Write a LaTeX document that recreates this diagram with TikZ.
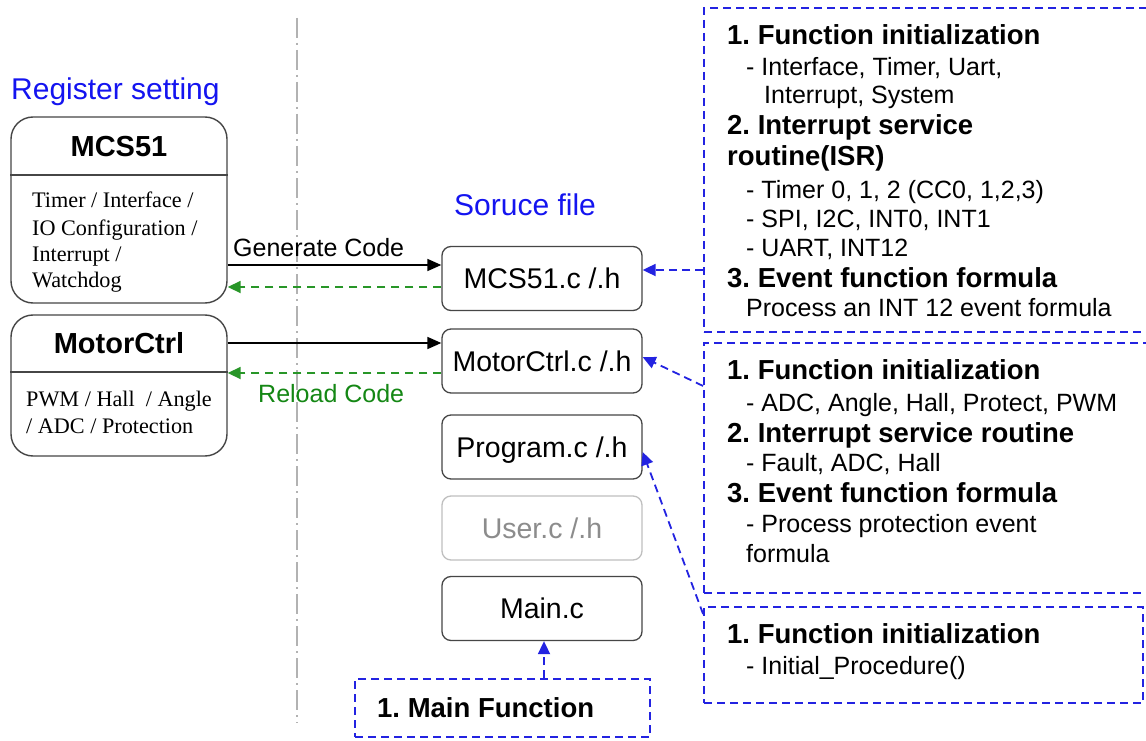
\documentclass[tikz,border=0pt]{standalone}
\usepackage{fontspec}
\setmainfont{Liberation Sans}
\newfontfamily\serifx{Liberation Serif}
\usetikzlibrary{arrows.meta}
\definecolor{dblue}{RGB}{35,35,225}
\definecolor{tblue}{RGB}{20,20,240}
\definecolor{dgreen}{RGB}{40,150,40}
\definecolor{tgreen}{RGB}{20,135,20}
\definecolor{boxgray}{RGB}{70,70,70}
\frenchspacing
\begin{document}
\begin{tikzpicture}[x=1pt,y=-1pt,
  regbox/.style={draw=boxgray, line width=1.4pt, rounded corners=22pt, inner sep=0pt},
  srcbox/.style={draw=boxgray, line width=1.3pt, rounded corners=9pt, minimum width=200pt, minimum height=64pt, inner sep=0pt, font=\fontsize{28.5}{33}\selectfont, text height=20.5pt, text depth=0pt},
  dbox/.style={draw=dblue, line width=1.8pt, dash pattern=on 8pt off 5pt, inner sep=0pt},
  ttl/.style={font=\bfseries\fontsize{29}{34}\selectfont, inner sep=0pt},
  sertxt/.style={font=\serifx\fontsize{22.2}{26}\selectfont, anchor=base west, inner sep=0pt},
  btxt/.style={font=\bfseries\fontsize{27.5}{32}\selectfont, anchor=base west, inner sep=0pt},
  rtxt/.style={font=\fontsize{25}{30}\selectfont, anchor=base west, inner sep=0pt},
  headtxt/.style={font=\fontsize{30}{35}\selectfont, text=tblue, anchor=base west, inner sep=0pt},
  genarrow/.style={draw=black, line width=1.6pt, -{Triangle[length=14pt,width=12pt]}},
  relarrow/.style={draw=dgreen, line width=1.8pt, dash pattern=on 8pt off 6pt, -{Triangle[length=13pt,width=12pt]}},
  barrow/.style={draw=dblue, line width=1.8pt, dash pattern=on 8pt off 5pt, -{Triangle[length=13pt,width=12pt]}}
]
\useasboundingbox (0,0) rectangle (1146,741);
\fill[white] (0,0) rectangle (1146,741);

% separator
\coordinate (sepA) at (297,18);
\coordinate (sepB) at (297,723);
\draw[black!30, line width=1.5pt, dash pattern=on 20pt off 5pt on 2pt off 5pt] (sepA) -- (sepB);

% headings
\node[headtxt] (reg) at (11,100) {Register setting};
\node[headtxt] (src) at (454,215) {Soruce file};

% left boxes
\node[regbox, minimum width=216pt, minimum height=186pt] (mcs) at (119,210) {};
\draw[boxgray, line width=1.4pt] (mcs.west |- 0,175) -- (mcs.east |- 0,175);
\node[ttl] (mcst) at (119,147) {MCS51};
\node[sertxt] (m1) at (32,207) {Timer / Interface /};
\node[sertxt] (m2) at (32,235) {IO Configuration /};
\node[sertxt] (m3) at (32,261) {Interrupt /};
\node[sertxt] (m4) at (32,287) {Watchdog};

\node[regbox, minimum width=216pt, minimum height=141pt] (mot) at (119,385.5) {};
\draw[boxgray, line width=1.4pt] (mot.west |- 0,372) -- (mot.east |- 0,372);
\node[ttl] (mott) at (119,343) {MotorCtrl};
\node[sertxt] (p1) at (26,406) {PWM / Hall~ / Angle};
\node[sertxt] (p2) at (26,433) {/ ADC / Protection};

% source boxes
\node[srcbox] (mcsc) at (542,278.5) {MCS51.c /.h};
\node[srcbox] (motc) at (542,361) {MotorCtrl.c /.h};
\node[srcbox] (prog) at (542,447) {Program.c /.h};
\node[srcbox, draw=black!25, text=black!45] (user) at (542,528) {User.c /.h};
\node[srcbox] (mainc) at (542,608.5) {Main.c};

% generate / reload arrows
\draw[genarrow] (mcs.east |- 0,265) -- (mcsc.west |- 0,265);
\draw[relarrow] (mcsc.west |- 0,287) -- (mcs.east |- 0,287);
\draw[genarrow] (mot.east |- 0,343) -- (motc.west |- 0,343);
\draw[relarrow] (motc.west |- 0,373) -- (mot.east |- 0,373);
\node[rtxt] (gen) at (233,256) {Generate Code};
\node[rtxt, text=tgreen] (rel) at (258,402) {Reload Code};

% right dashed boxes
\node[dbox, minimum width=456pt, minimum height=324pt] (rb1) at (932,170) {};
\node[dbox, minimum width=456pt, minimum height=250pt] (rb2) at (932,468) {};
\node[dbox, minimum width=439pt, minimum height=96pt] (rb3) at (923.5,655) {};
\node[dbox, minimum width=295pt, minimum height=58pt] (mainf) at (502.5,708) {};

% top box text
\node[btxt] (a1) at (727,45) {1. Function initialization};
\node[rtxt] (a2) at (746,76) {- Interface, Timer, Uart,};
\node[rtxt] (a3) at (764,104) {Interrupt, System};
\node[btxt] (a4) at (727,135) {2. Interrupt service};
\node[btxt] (a5) at (727,166) {routine(ISR)};
\node[rtxt] (a6) at (746,198) {- Timer 0, 1, 2 (CC0, 1,2,3)};
\node[rtxt] (a7) at (746,227) {- SPI, I2C, INT0, INT1};
\node[rtxt] (a8) at (746,256) {- UART, INT12};
\node[btxt] (a9) at (727,287) {3. Event function formula};
\node[rtxt] (a10) at (746,316) {Process an INT 12 event formula};

% middle box text
\node[btxt] (b1) at (727,379) {1. Function initialization};
\node[rtxt] (b2) at (746,411) {- ADC, Angle, Hall, Protect, PWM};
\node[btxt] (b3) at (727,442) {2. Interrupt service routine};
\node[rtxt] (b4) at (746,471) {- Fault, ADC, Hall};
\node[btxt] (b5) at (727,502) {3. Event function formula};
\node[rtxt] (b6) at (746,532) {- Process protection event};
\node[rtxt] (b7) at (746,562) {formula};

% bottom box text
\node[btxt] (c1) at (727,643) {1. Function initialization};
\node[rtxt] (c2) at (746,674) {- Initial\_Procedure()};

% main function text
\node[btxt] (mf) at (377,717) {1. Main Function};

% blue arrows
\draw[barrow] (rb1.west |- 0,270) -- (mcsc.east |- 0,270);
\draw[barrow] (rb2.west |- 0,386) -- (motc.east |- 0,357);
\draw[barrow] (rb3.west |- 0,614) -- (prog.east |- 0,452);
\draw[barrow] (mainf.north -| 544,0) -- (mainc.south -| 544,0);
\end{tikzpicture}
\end{document}
